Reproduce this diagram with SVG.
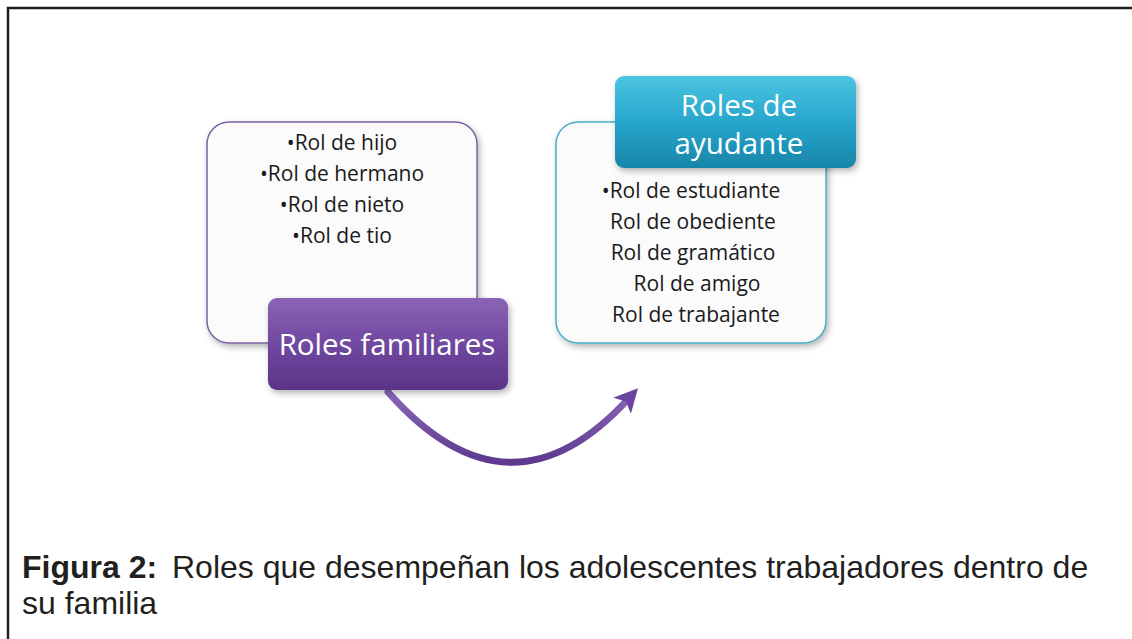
<svg xmlns="http://www.w3.org/2000/svg" width="1132" height="639" viewBox="0 0 1132 639">
<defs>
<linearGradient id="gPurple" x1="0" y1="0" x2="0" y2="1">
<stop offset="0" stop-color="#8a64b6"/>
<stop offset="0.5" stop-color="#7048a0"/>
<stop offset="1" stop-color="#5a3488"/>
</linearGradient>
<linearGradient id="gTeal" x1="0" y1="0" x2="0" y2="1">
<stop offset="0" stop-color="#4cc4e2"/>
<stop offset="0.5" stop-color="#27a6cc"/>
<stop offset="1" stop-color="#1785a8"/>
</linearGradient>
<linearGradient id="gArrow" x1="0" y1="0" x2="0" y2="1">
<stop offset="0" stop-color="#8a66b8"/>
<stop offset="1" stop-color="#5e3a8e"/>
</linearGradient>
<filter id="sh" x="-10%" y="-10%" width="130%" height="140%">
<feDropShadow dx="2" dy="3" stdDeviation="3" flood-color="#000" flood-opacity="0.3"/>
</filter>
<marker id="ah" viewBox="0 0 10 10" refX="5" refY="5" markerWidth="3.4" markerHeight="3.4" orient="auto" markerUnits="strokeWidth">
<path d="M0,0 L10,5 L0,10 L2.5,5 Z" fill="#6a44a0"/>
</marker>
<style>
.list{font-family:"Open Sans","Noto Sans",sans-serif;font-size:21px;fill:#1a1a1a;text-anchor:middle}
.head{font-family:"Open Sans","Noto Sans",sans-serif;font-size:29.5px;fill:#ffffff;text-anchor:middle}
.cap{font-family:"Liberation Sans",Arial,sans-serif;font-size:32px;fill:#231f20}
</style>
</defs>
<rect x="0" y="0" width="1132" height="639" fill="#ffffff"/>
<path d="M8 639 V8 H1132" fill="none" stroke="#231f20" stroke-width="2.5"/>

<g id="connectors">
<path d="M388 392 Q510 530 630 397" fill="none" stroke="url(#gArrow)" stroke-width="7" stroke-linecap="round" marker-end="url(#ah)"/>
</g>

<g id="node-familiares-list">
<rect x="207" y="122" width="270" height="221" rx="22" fill="#fbfbfb" stroke="#7b62a6" stroke-width="1.5" filter="url(#sh)"/>
<text class="list" x="342" y="150">•Rol de hijo</text>
<text class="list" x="342" y="181">•Rol de hermano</text>
<text class="list" x="342" y="212">•Rol de nieto</text>
<text class="list" x="342" y="243">•Rol de tio</text>
</g>

<g id="node-familiares">
<rect x="268" y="298" width="240" height="92" rx="9" fill="url(#gPurple)" filter="url(#sh)"/>
<text class="head" x="387" y="355">Roles familiares</text>
</g>

<g id="node-ayudante-list">
<rect x="556" y="122" width="270" height="221" rx="22" fill="#fbfbfb" stroke="#4aabc8" stroke-width="1.5" filter="url(#sh)"/>
<text class="list" x="691" y="198">•Rol de estudiante</text>
<text class="list" x="693" y="229">Rol de obediente</text>
<text class="list" x="693" y="260">Rol de gramático</text>
<text class="list" x="697" y="291">Rol de amigo</text>
<text class="list" x="696" y="322">Rol de trabajante</text>
</g>

<g id="node-ayudante">
<rect x="615" y="76" width="241" height="92" rx="9" fill="url(#gTeal)" filter="url(#sh)"/>
<text class="head" x="739" y="116">Roles de</text>
<text class="head" x="739" y="154">ayudante</text>
</g>

<g id="caption">
<text class="cap" x="22" y="578"><tspan font-weight="bold">Figura 2:</tspan><tspan x="172">Roles que desempeñan los adolescentes trabajadores dentro de</tspan></text>
<text class="cap" x="22" y="614">su familia</text>
</g>
</svg>
